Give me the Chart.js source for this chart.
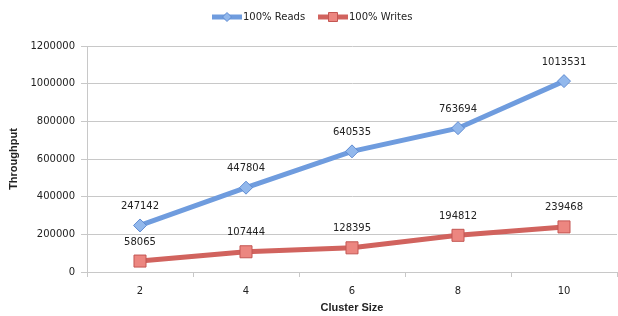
<!DOCTYPE html>
<html>
<head>
<meta charset="utf-8">
<script src="https://cdn.jsdelivr.net/npm/chart.js@4/dist/chart.umd.min.js"></script>
<style>
  html, body { margin: 0; padding: 0; background: #fff; }
  #wrap { width: 618px; height: 316px; }
</style>
</head>
<body>
<div id="wrap"><canvas id="chart" width="618" height="316"></canvas></div>
<script>
// Chart data
const clusterSizes = ['2', '4', '6', '8', '10'];
const readsValues = [247142, 447804, 640535, 763694, 1013531];
const writesValues = [58065, 107444, 128395, 194812, 239468];
const yTicks = [0, 200000, 400000, 600000, 800000, 1000000, 1200000];

const BLUE_LINE = 'rgb(111, 156, 222)';
const BLUE_FILL = 'rgb(146, 184, 236)';
const BLUE_EDGE = 'rgb(96, 140, 210)';
const RED_LINE = 'rgb(209, 99, 94)';
const RED_FILL = 'rgb(236, 134, 128)';
const RED_EDGE = 'rgb(196, 86, 82)';
const GRID = 'rgb(200, 200, 200)';
const TEXT = '#222';

// Draw value labels above each point
const valueLabels = {
    id: 'valueLabels',
    afterDatasetsDraw(chart) {
        const ctx = chart.ctx;
        ctx.save();
        ctx.font = '10px "DejaVu Sans"';
        ctx.fillStyle = TEXT;
        ctx.textAlign = 'center';
        ctx.textBaseline = 'middle';
        chart.data.datasets.forEach((ds, i) => {
            const meta = chart.getDatasetMeta(i);
            meta.data.forEach((pt, j) => {
                ctx.fillText(String(ds.data[j]), pt.x, pt.y - 19);
            });
        });
        ctx.restore();
    }
};

// Legend drawn by hand: line sample with marker, then label
const lineLegend = {
    id: 'lineLegend',
    afterDraw(chart) {
        const ctx = chart.ctx;
        const items = [
            { x: 212, text: '100% Reads', line: BLUE_LINE, fill: BLUE_FILL, edge: BLUE_EDGE, shape: 'diamond' },
            { x: 318, text: '100% Writes', line: RED_LINE, fill: RED_FILL, edge: RED_EDGE, shape: 'square' }
        ];
        const y = 17;
        ctx.save();
        items.forEach(it => {
            ctx.strokeStyle = it.line;
            ctx.lineWidth = 5;
            ctx.beginPath();
            ctx.moveTo(it.x, y);
            ctx.lineTo(it.x + 30, y);
            ctx.stroke();
            const cx = it.x + 15;
            ctx.fillStyle = it.fill;
            ctx.strokeStyle = it.edge;
            ctx.lineWidth = 1;
            ctx.beginPath();
            if (it.shape === 'diamond') {
                ctx.moveTo(cx, y - 4.5);
                ctx.lineTo(cx + 4.5, y);
                ctx.lineTo(cx, y + 4.5);
                ctx.lineTo(cx - 4.5, y);
                ctx.closePath();
            } else {
                ctx.rect(cx - 4.5, y - 4.5, 9, 9);
            }
            ctx.fill();
            ctx.stroke();
            ctx.fillStyle = TEXT;
            ctx.font = '10px "DejaVu Sans"';
            ctx.textAlign = 'left';
            ctx.textBaseline = 'middle';
            ctx.fillText(it.text, it.x + 31, y);
        });
        ctx.restore();
    }
};

new Chart(document.getElementById('chart'), {
    type: 'line',
    data: {
        labels: clusterSizes,
        datasets: [
            {
                label: '100% Reads',
                data: readsValues,
                borderColor: BLUE_LINE,
                borderWidth: 5,
                backgroundColor: BLUE_FILL,
                pointStyle: 'rectRot',
                pointRadius: 6.5,
                pointBackgroundColor: BLUE_FILL,
                pointBorderColor: BLUE_EDGE,
                pointBorderWidth: 1,
                tension: 0
            },
            {
                label: '100% Writes',
                data: writesValues,
                borderColor: RED_LINE,
                borderWidth: 5,
                backgroundColor: RED_FILL,
                pointStyle: 'rect',
                pointRadius: 8.5,
                pointBackgroundColor: RED_FILL,
                pointBorderColor: RED_EDGE,
                pointBorderWidth: 1,
                tension: 0
            }
        ]
    },
    options: {
        responsive: false,
        animation: false,
        devicePixelRatio: 1,
        layout: { autoPadding: false, padding: { top: 46, right: 1, bottom: 0, left: 0 } },
        plugins: {
            legend: { display: false },
            tooltip: { enabled: false }
        },
        scales: {
            x: {
                offset: true,
                grid: {
                    offset: true,
                    drawOnChartArea: false,
                    drawTicks: true,
                    tickLength: 5,
                    color: GRID
                },
                border: { color: GRID },
                ticks: {
                    color: TEXT,
                    font: { family: 'DejaVu Sans', size: 10 },
                    padding: 8,
                    maxRotation: 0
                },
                title: {
                    display: true,
                    text: 'Cluster Size',
                    color: TEXT,
                    font: { family: 'Liberation Sans', size: 11, weight: 'bold' },
                    padding: { top: 0, bottom: 1 }
                },
                afterFit(scale) {
                    scale.height = 44;
                    scale.paddingLeft = 0;
                    scale.paddingRight = 0;
                }
            },
            y: {
                min: 0,
                max: 1200000,
                afterBuildTicks(scale) {
                    scale.ticks = yTicks.map(v => ({ value: v }));
                },
                grid: {
                    color: GRID,
                    tickLength: 6,
                    lineWidth: 1
                },
                border: { color: GRID },
                ticks: {
                    color: TEXT,
                    font: { family: 'DejaVu Sans', size: 10 },
                    padding: 6,
                    callback: v => String(v)
                },
                title: {
                    display: true,
                    text: 'Throughput',
                    color: TEXT,
                    font: { family: 'Liberation Sans', size: 11, weight: 'bold' },
                    padding: { top: 7, bottom: 0 }
                },
                afterFit(scale) { scale.width = 87; }
            }
        }
    },
    plugins: [valueLabels, lineLegend]
});
</script>
</body>
</html>
